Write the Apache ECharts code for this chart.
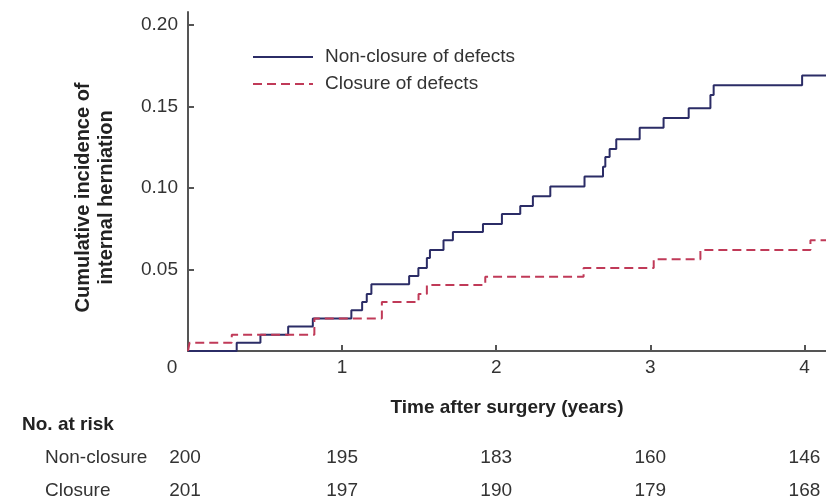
<!DOCTYPE html>
<html><head><meta charset="utf-8">
<script src="https://cdn.jsdelivr.net/npm/echarts@6/dist/echarts.min.js"></script>
<style>html,body{margin:0;padding:0;background:#fff}#c{width:826px;height:499px}</style>
</head><body><div id="c"></div>
<script>
const seriesNames = ['Non-closure of defects', 'Closure of defects'];
const nonClosureTimes = [0, 0.316, 0.47, 0.65, 0.81, 1.06, 1.13, 1.16, 1.19, 1.435, 1.495, 1.55, 1.57, 1.658, 1.719, 1.914, 2.037, 2.156, 2.238, 2.351, 2.573, 2.693, 2.708, 2.736, 2.779, 2.931, 3.086, 3.249, 3.39, 3.411, 3.985, 4.14];
const nonClosureValues = [0, 0.005, 0.01, 0.015, 0.02, 0.025, 0.03, 0.035, 0.041, 0.046, 0.051, 0.057, 0.062, 0.068, 0.073, 0.078, 0.084, 0.089, 0.095, 0.101, 0.107, 0.113, 0.119, 0.124, 0.13, 0.137, 0.143, 0.149, 0.157, 0.163, 0.169, 0.169];
const closureTimes = [0, 0.01, 0.284, 0.82, 1.258, 1.496, 1.55, 1.929, 2.567, 3.022, 3.325, 4.039, 4.14];
const closureValues = [0, 0.005, 0.01, 0.02, 0.03, 0.035, 0.0405, 0.0456, 0.051, 0.0563, 0.062, 0.068, 0.068];
const xTicks = [0, 1, 2, 3, 4];
const yTicks = [0, 0.05, 0.10, 0.15, 0.20];
const yLabelTicks = [0.05, 0.10, 0.15, 0.20];
const riskTitle = 'No. at risk';
const riskGroups = ['Non-closure', 'Closure'];
const riskNonClosure = [200, 195, 183, 160, 146];
const riskClosure = [201, 197, 190, 179, 168];

const FONT = 'Liberation Sans, Arial, Helvetica, sans-serif';
const chart = echarts.init(document.getElementById('c'), null, {renderer: 'canvas'});
const pair = (ts, vs) => ts.map((t, i) => [t, vs[i]]);

chart.setOption({
  animation: false,
  backgroundColor: '#fff',
  textStyle: {fontFamily: FONT},
  grid: {left: 188, right: 0, top: 12, bottom: 148, containLabel: false},
  legend: {
    data: seriesNames, orient: 'vertical', left: 247, top: 42,
    itemWidth: 60, itemHeight: 14, itemGap: 7,
    itemStyle: {opacity: 0},
    textStyle: {fontSize: 19, color: '#333', lineHeight: 20, padding: [0, 0, 0, 7], fontFamily: FONT}
  },
  xAxis: {
    type: 'value', min: 0, max: 4.14,
    name: 'Time after surgery (years)', nameLocation: 'middle', nameGap: 47,
    nameTextStyle: {fontSize: 19, fontWeight: 'bold', color: '#222', fontFamily: FONT},
    axisLine: {lineStyle: {color: '#555', width: 2}},
    axisTick: {inside: true, length: 6, lineStyle: {color: '#555', width: 2}, customValues: xTicks},
    axisLabel: {
      customValues: xTicks, margin: 7, fontSize: 19, color: '#333',
      formatter: v => v === 0 ? '{z|0}' : String(v),
      rich: {z: {fontSize: 19, color: '#333', padding: [0, 32, 0, 0], fontFamily: FONT}}
    },
    splitLine: {show: false}
  },
  yAxis: {
    type: 'value', min: 0, max: 0.208,
    name: 'Cumulative incidence of\ninternal herniation', nameLocation: 'middle', nameRotate: 90, nameGap: 70,
    nameTextStyle: {fontSize: 20, fontWeight: 'bold', color: '#222', lineHeight: 23, padding: [0, 32, 0, 0], fontFamily: FONT},
    axisLine: {lineStyle: {color: '#555', width: 2}},
    axisTick: {inside: true, length: 6, lineStyle: {color: '#555', width: 2}, customValues: yTicks},
    axisLabel: {customValues: yLabelTicks, margin: 10, fontSize: 19, color: '#333', formatter: v => v.toFixed(2)},
    splitLine: {show: false}
  },
  series: [
    {name: seriesNames[0], type: 'line', step: 'end', symbol: 'none', data: pair(nonClosureTimes, nonClosureValues),
     lineStyle: {color: '#2b2c66', width: 2}, itemStyle: {color: '#2b2c66'}, z: 2},
    {name: seriesNames[1], type: 'line', step: 'end', symbol: 'none', data: pair(closureTimes, closureValues),
     lineStyle: {color: '#c03a58', width: 2, type: [9, 5]}, itemStyle: {color: '#c03a58'}, z: 3}
  ]
});

function buildTable() {
  const els = [];
  const font = '19px ' + FONT;
  els.push({type: 'text', style: {x: 22, y: 425, text: riskTitle, font: 'bold ' + font, fill: '#222', textVerticalAlign: 'middle'}});
  const rows = [riskNonClosure, riskClosure];
  const ys = [458, 491];
  riskGroups.forEach((g, r) => {
    els.push({type: 'text', style: {x: 45, y: ys[r], text: g, font: font, fill: '#333', textVerticalAlign: 'middle'}});
    rows[r].forEach((n, i) => {
      let px = chart.convertToPixel({xAxisIndex: 0}, xTicks[i]);
      if (i === 0) px -= 3;
      if (i === xTicks.length - 1) px = Math.min(px, 826 - 17);
      els.push({type: 'text', style: {x: px, y: ys[r], text: String(n), font: font, fill: '#333', textAlign: 'center', textVerticalAlign: 'middle'}});
    });
  });
  chart.setOption({graphic: els});
}
buildTable();
</script>
</body></html>
